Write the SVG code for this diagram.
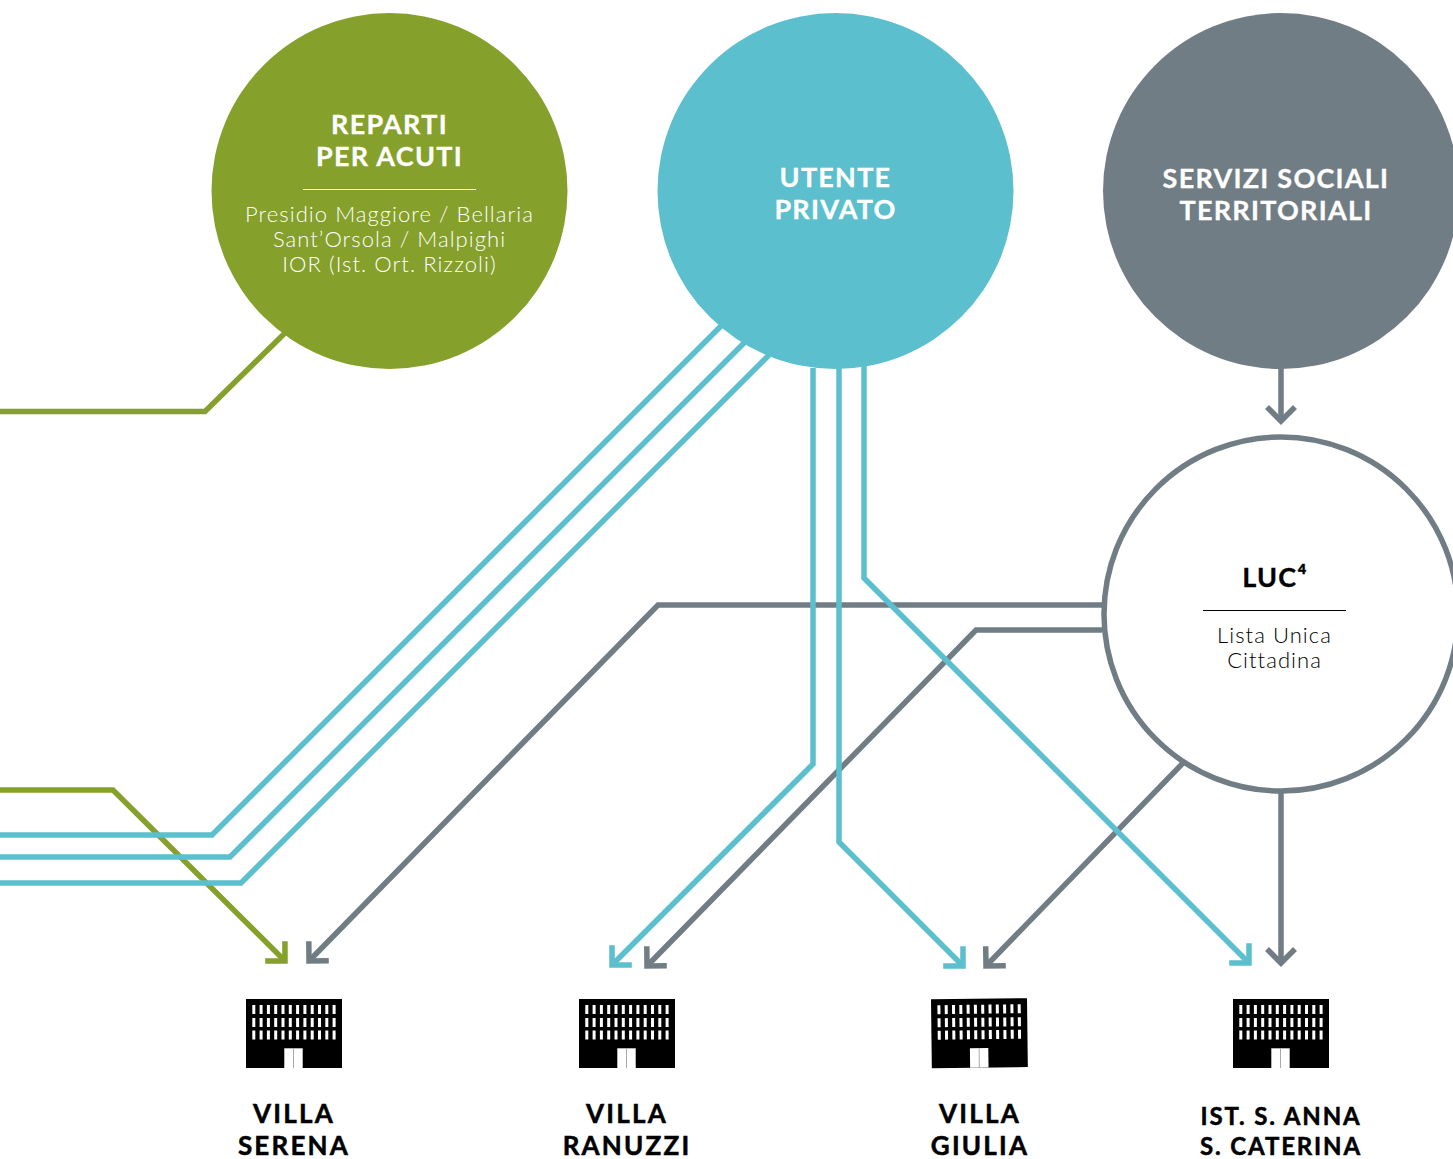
<svg xmlns="http://www.w3.org/2000/svg" xmlns:xlink="http://www.w3.org/1999/xlink" width="1453" height="1159" viewBox="0 0 1453 1159">
<style>
text{font-family:"Lato","Noto Sans",sans-serif;text-anchor:middle}
.h{font-size:27px;font-weight:700;letter-spacing:1.25px;stroke-width:.3px}
.s{font-size:22px;font-weight:300;letter-spacing:1.05px}
.w{fill:#fff}
.h.w{stroke:#fff}
.k{fill:#000}
.h.k{stroke:#000}
.c{fill:none;stroke-width:5.5;stroke-linejoin:miter}
.g{stroke:#85a02b}.t{stroke:#5bbfcd}.y{stroke:#717d84}
.l{font-size:26px;font-weight:700;letter-spacing:2.2px;fill:#000;stroke:#000;stroke-width:.5px}
.m{font-size:24px;letter-spacing:1.85px}
</style>
<defs>
<marker id="ag" markerUnits="userSpaceOnUse" markerWidth="40" markerHeight="40" viewBox="-20 -20 40 40" refX="0" refY="0" orient="auto"><path d="M-14-14L0 0L-14 14" fill="none" stroke="#85a02b" stroke-width="5.500"/></marker>
<marker id="at" markerUnits="userSpaceOnUse" markerWidth="40" markerHeight="40" viewBox="-20 -20 40 40" refX="0" refY="0" orient="auto"><path d="M-14-14L0 0L-14 14" fill="none" stroke="#5bbfcd" stroke-width="5.500"/></marker>
<marker id="ay" markerUnits="userSpaceOnUse" markerWidth="40" markerHeight="40" viewBox="-20 -20 40 40" refX="0" refY="0" orient="auto"><path d="M-14-14L0 0L-14 14" fill="none" stroke="#717d84" stroke-width="5.500"/></marker>
<g id="b">
<rect x="0" y="0" width="96" height="69" fill="#000"/>
<path d="M6.300 10.500H90M6.300 23.500H90M6.300 36H90" stroke="#fff" stroke-width="9" stroke-dasharray="3 4.3" fill="none"/>
<rect x="38.300" y="49.300" width="18.400" height="19.700" fill="#fff"/>
<path d="M47.500 49.300V69" stroke="#aaa" stroke-width="1"/>
</g>
</defs>
<g id="connectors">
<path class="c g" d="M285 333L205 411.500H0"/>
<path class="c g" d="M0 790H113L285 961" marker-end="url(#ag)"/>
<path class="c t" d="M721 326L212 835H0"/>
<path class="c t" d="M745 342L230 857H0"/>
<path class="c t" d="M769 355L241 883H0"/>
<path class="c y" d="M1102 605H658L309 961" marker-end="url(#ay)"/>
<path class="c y" d="M1102 630H976L647 966" marker-end="url(#ay)"/>
<path class="c y" d="M1183 763L986 966" marker-end="url(#ay)"/>
<path class="c y" d="M1281 793V963" marker-end="url(#ay)"/>
<path class="c y" d="M1281 368V421" marker-end="url(#ay)"/>
<path class="c t" d="M813 368V764L612 965" marker-end="url(#at)"/>
<path class="c t" d="M839 368V842L963 966" marker-end="url(#at)"/>
<path class="c t" d="M864 366V578L1249 963" marker-end="url(#at)"/>
</g>
<g id="reparti">
<circle cx="389.500" cy="191" r="178" fill="#85a02b"/>
<text class="h w" x="389.500" y="134">REPARTI</text>
<text class="h w" x="389.500" y="166">PER ACUTI</text>
<path d="M303 189.500H476" stroke="#fff" stroke-width="1"/>
<text class="s w" x="389.500" y="222">Presidio Maggiore / Bellaria</text>
<text class="s w" x="389.500" y="247">Sant’Orsola / Malpighi</text>
<text class="s w" x="389.500" y="272">IOR (Ist. Ort. Rizzoli)</text>
</g>
<g id="utente">
<circle cx="835.500" cy="191" r="178" fill="#5bbfcd"/>
<text class="h w" x="835.500" y="187">UTENTE</text>
<text class="h w" x="835.500" y="219">PRIVATO</text>
</g>
<g id="servizi">
<circle cx="1281" cy="191" r="178" fill="#717d84"/>
<text class="h w" x="1276" y="188">SERVIZI SOCIALI</text>
<text class="h w" x="1276" y="220">TERRITORIALI</text>
</g>
<g id="luc">
<circle cx="1281" cy="614" r="177" fill="#fff" stroke="#717d84" stroke-width="5.500"/>
<text class="h k" x="1275" y="587">LUC⁴</text>
<path d="M1203 610.500H1346" stroke="#000" stroke-width="1"/>
<text class="s k" x="1274.500" y="643">Lista Unica</text>
<text class="s k" x="1274.500" y="668">Cittadina</text>
</g>
<g id="villa-serena">
<use xlink:href="#b" href="#b" x="246" y="999"/>
<text class="l" x="294" y="1123">VILLA</text>
<text class="l" x="294" y="1155">SERENA</text>
</g>
<g id="villa-ranuzzi">
<use xlink:href="#b" href="#b" x="579" y="999"/>
<text class="l" x="627" y="1123">VILLA</text>
<text class="l" x="627" y="1155">RANUZZI</text>
</g>
<g id="villa-giulia">
<use xlink:href="#b" href="#b" transform="translate(931 999.300) rotate(-0.7)"/>
<text class="l" x="980" y="1123">VILLA</text>
<text class="l" x="980" y="1155">GIULIA</text>
</g>
<g id="ist-anna">
<use xlink:href="#b" href="#b" x="1233" y="999"/>
<text class="l m" x="1281" y="1125">IST. S. ANNA</text>
<text class="l m" x="1281" y="1155">S. CATERINA</text>
</g>
</svg>
